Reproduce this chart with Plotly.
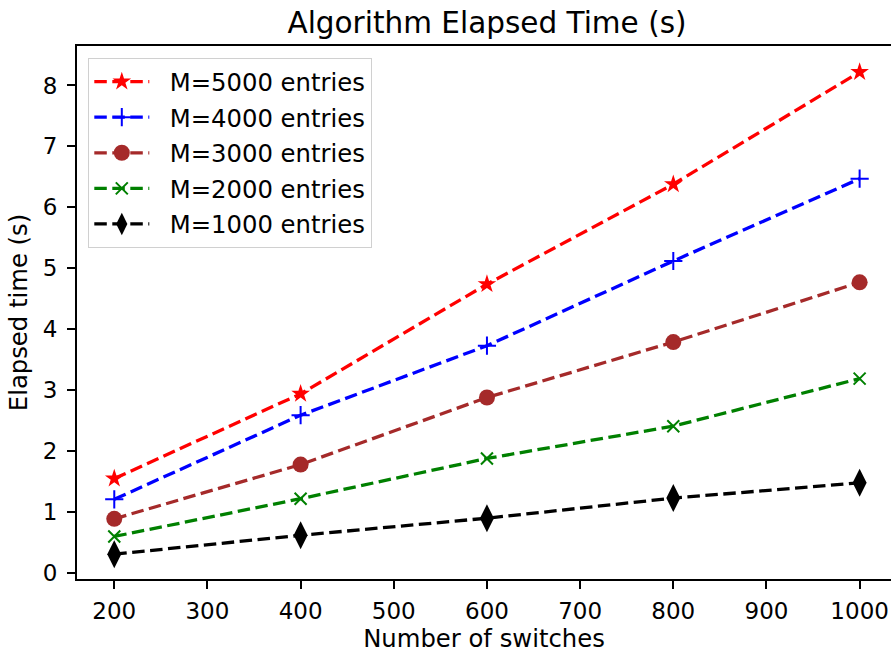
import plotly.graph_objects as go

# Number of switches on the x axis
switches = [200, 400, 600, 800, 1000]

# Elapsed time (s) for each table size
t_5000 = [1.55, 2.94, 4.74, 6.38, 8.22]
t_4000 = [1.21, 2.59, 3.73, 5.12, 6.47]
t_3000 = [0.89, 1.78, 2.88, 3.79, 4.77]
t_2000 = [0.60, 1.22, 1.88, 2.41, 3.19]
t_1000 = [0.31, 0.62, 0.90, 1.23, 1.48]

series_names = ["M=5000 entries", "M=4000 entries", "M=3000 entries",
                "M=2000 entries", "M=1000 entries"]
series_values = [t_5000, t_4000, t_3000, t_2000, t_1000]

y_ticks = [0, 1, 2, 3, 4, 5, 6, 7, 8]
x_ticks = [200, 300, 400, 500, 600, 700, 800, 900, 1000]

styles = [
    dict(color="#ff0000", symbol="star", size=14, lw=0),
    dict(color="#0000ff", symbol="cross-thin", size=13, lw=2),
    dict(color="#a52a2a", symbol="circle", size=16, lw=0),
    dict(color="#008000", symbol="x-thin", size=12, lw=2),
    dict(color="#000000", symbol="diamond-tall", size=20, lw=0),
]

FONT = "DejaVu Sans"
W, H = 891, 655
L, R, T, B = 77, 0, 46, 76
GAP = "\u00a0\u00a0"  # small spacer between legend sample and its label

fig = go.Figure()
for i, (name, vals, st) in enumerate(zip(series_names, series_values, styles)):
    fig.add_trace(go.Scatter(
        x=switches, y=vals, name=GAP + name, mode="lines+markers",
        legendgroup=f"g{i}",
        line=dict(color=st["color"], width=3.3, dash="12.5px,5.5px"),
        marker=dict(symbol=st["symbol"], size=st["size"], color=st["color"],
                    line=dict(color=st["color"], width=st["lw"])),
    ))

axis_common = dict(
    showgrid=False, zeroline=False, showline=True, linecolor="black",
    linewidth=1.8, ticks="outside", ticklen=8, tickwidth=1.8,
    tickcolor="black", tickfont=dict(family=FONT, size=23, color="black"),
)

fig.update_layout(
    width=W, height=H,
    margin=dict(l=L, r=R, t=T, b=B, pad=0),
    paper_bgcolor="white", plot_bgcolor="white",
    font=dict(family=FONT, color="black"),
    title=dict(text="Algorithm Elapsed Time (s)", font=dict(family=FONT, size=29.5, color="black"),
               x=487 / W, xref="container", xanchor="center",
               y=1 - 23 / H, yref="container", yanchor="middle"),
    xaxis=dict(range=[160, 160 + (W - L) / 0.9317], tickvals=x_ticks,
               mirror=True, ticklabelstandoff=2,
               title=dict(text="Number of switches", font=dict(family=FONT, size=24.3), standoff=7),
               **axis_common),
    yaxis=dict(range=[-0.0975, 8.6475], tickvals=y_ticks, ticklabelstandoff=5,
               title=dict(text="Elapsed time (s)", font=dict(family=FONT, size=24.3), standoff=8),
               **axis_common),
    legend=dict(
        x=(88 - L) / (W - L), y=(H - B - 58) / (H - T - B),
        xanchor="left", yanchor="top",
        bgcolor="rgba(255,255,255,0.8)", bordercolor="#d0d0d0", borderwidth=1.3,
        font=dict(family=FONT, size=24.3, color="black"),
        tracegroupgap=1, itemwidth=55,
    ),
)

fig.write_html("out.html")
